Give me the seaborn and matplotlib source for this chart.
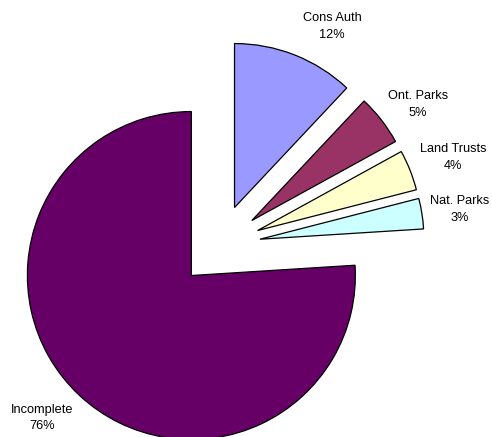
import matplotlib
matplotlib.use("Agg")
import matplotlib.pyplot as plt
import seaborn as sns

# Share of land by holder
categories = ["Cons Auth", "Ont. Parks", "Land Trusts", "Nat. Parks", "Incomplete"]
shares = [12, 5, 4, 3, 76]
colors = ["#9999FF", "#993366", "#FFFFCC", "#CCFFFF", "#660066"]

# Where each two-line label sits (data units, pie radius = 1)
label_xy = [(0.686, 1.339), (1.210, 0.863), (1.424, 0.540), (1.466, 0.220), (-1.082, -1.051)]

sns.set_style("white")
plt.rcParams["font.family"] = ["Liberation Sans", "DejaVu Sans"]

fig = plt.figure(figsize=(4.92, 4.37), dpi=100)
ax = fig.add_axes([0, 0, 1, 1])

wedges, _ = ax.pie(
    shares,
    colors=colors,
    startangle=90,
    counterclock=False,
    explode=[0.25] * len(shares),
    radius=1.0,
    center=(0, 0),
    wedgeprops=dict(edgecolor="black", linewidth=0.9),
    frame=True,
)

for name, val, (x, y) in zip(categories, shares, label_xy):
    ax.text(x, y, f"{name}\n{val}%", ha="center", va="center",
            fontsize=9.2, linespacing=1.55, color="black")

ax.set_xlim(-1.338, 1.662)
ax.set_ylim(-1.167, 1.498)
ax.set_aspect("equal")
ax.axis("off")

fig.savefig("out.png", dpi=100, facecolor="white")
